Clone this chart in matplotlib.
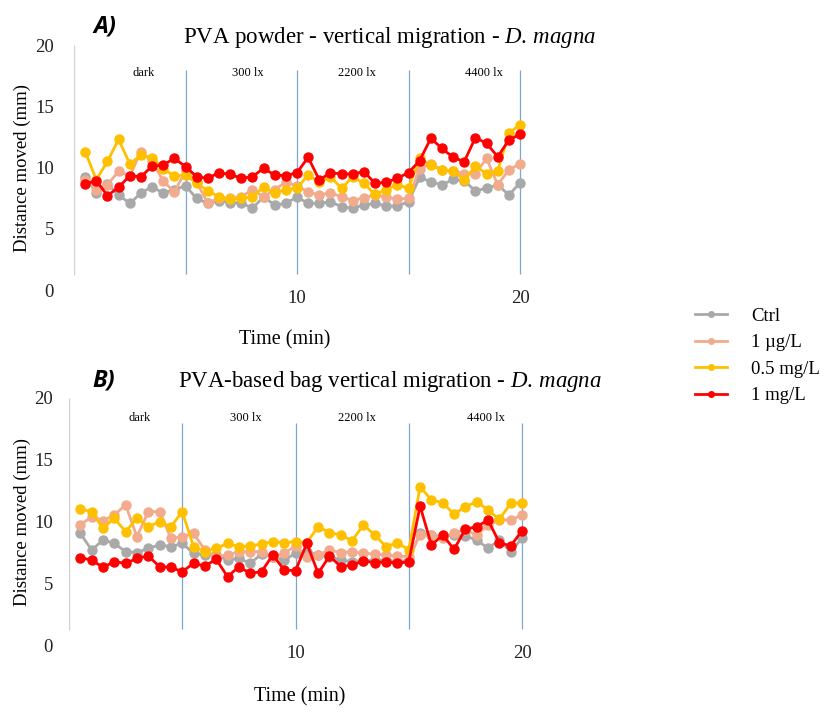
import numpy as np
from matplotlib import pyplot as plt
from matplotlib.lines import Line2D

plt.rcParams['font.family'] = ['Liberation Serif', 'DejaVu Serif']
plt.rcParams['mathtext.fontset'] = 'custom'
plt.rcParams['mathtext.it'] = 'Liberation Serif:italic'
plt.rcParams['mathtext.rm'] = 'Liberation Serif'

# time points, every 30 s
time = np.arange(1, 41) * 0.5

series_names = ['Ctrl', '1 \u00b5g/L', '0.5 mg/L', '1 mg/L']
series_colors = ['#a9a9a9', '#f2ab8c', '#ffc000', '#ff0000']

phases = ['dark', '300 lx', '2200 lx', '4400 lx']
phase_x = [3.1, 7.8, 12.7, 18.4]
dividers = [5, 10, 15, 20]

# A) PVA powder
a_ctrl = [9.25, 7.95, 8.65, 7.76, 7.07, 7.9, 8.44, 7.9, 8.2, 8.5,
          7.48, 7.07, 7.3, 7.13, 7.13, 6.67, 7.6, 6.94, 7.07, 7.6,
          7.07, 7.07, 7.2, 6.8, 6.67, 6.94, 7.07, 6.86, 6.86, 7.2,
          9.2, 8.84, 8.57, 9.03, 8.9, 8.1, 8.3, 8.6, 7.75, 8.75]
a_1ug = [9.0, 8.2, 8.6, 9.7, 9.3, 11.3, 10.5, 8.9, 8.0, 9.7,
         8.8, 7.1, 7.5, 7.5, 7.6, 8.2, 7.6, 8.2, 8.8, 8.5,
         8.0, 7.75, 7.95, 7.6, 7.3, 7.55, 7.75, 7.6, 7.4, 7.5,
         9.9, 10.3, 9.8, 9.7, 9.5, 9.5, 10.75, 8.6, 9.8, 10.3]
a_05mg = [11.3, 9.0, 10.5, 12.3, 10.3, 11.0, 10.8, 9.9, 9.3, 9.4,
          8.7, 8.1, 7.6, 7.4, 7.5, 7.6, 8.4, 7.9, 8.2, 8.3,
          9.4, 8.8, 9.25, 8.3, 9.25, 8.7, 7.8, 8.2, 8.6, 8.3,
          10.75, 10.2, 9.8, 9.7, 9.0, 10.1, 9.5, 9.7, 12.8, 13.5]
a_1mg = [8.65, 8.93, 7.7, 8.38, 9.33, 9.25, 10.1, 10.2, 10.75, 10.07,
         9.25, 9.12, 9.58, 9.44, 9.12, 9.25, 9.93, 9.39, 9.33, 9.58,
         10.83, 8.98, 9.58, 9.47, 9.47, 9.66, 8.71, 8.79, 9.12, 9.58,
         10.56, 12.38, 11.56, 10.83, 10.48, 12.44, 11.97, 10.88, 12.24, 12.71]

# B) PVA-based bag
b_ctrl = [9.04, 7.69, 8.5, 8.23, 7.56, 7.48, 7.83, 8.1, 7.96, 8.23,
          7.42, 7.29, 7.29, 6.88, 7.02, 6.61, 7.37, 7.15, 6.88, 7.42,
          7.56, 7.29, 7.15, 6.88, 6.75, 6.83, 6.88, 6.88, 6.75, 6.88,
          9.04, 8.9, 8.77, 8.9, 8.83, 8.5, 7.83, 8.5, 7.56, 8.64]
b_1ug = [9.72, 10.4, 10.07, 10.53, 11.34, 8.77, 10.8, 10.8, 8.64, 8.77,
         9.04, 7.69, 7.15, 7.29, 7.56, 7.56, 7.56, 7.15, 7.42, 8.02,
         7.15, 7.29, 7.69, 7.48, 7.56, 7.42, 7.37, 7.29, 7.21, 7.15,
         8.9, 8.9, 8.64, 9.1, 9.31, 8.9, 9.72, 10.12, 10.12, 10.53]
b_05mg = [11.0, 10.8, 9.45, 10.26, 9.18, 10.26, 9.58, 9.99, 9.58, 10.8,
          7.96, 7.56, 7.83, 8.23, 7.96, 8.02, 8.18, 8.37, 8.29, 8.37,
          8.29, 9.58, 9.1, 8.9, 8.45, 9.72, 8.9, 7.96, 8.29, 7.69,
          12.82, 11.74, 11.52, 10.6, 11.2, 11.6, 10.93, 10.18, 11.47, 11.52]
b_1mg = [7.07, 6.88, 6.29, 6.75, 6.61, 7.02, 7.21, 6.34, 6.29, 5.94,
         6.61, 6.4, 6.94, 5.53, 6.34, 5.8, 5.94, 7.29, 6.07, 6.02,
         8.23, 5.8, 7.21, 6.34, 6.48, 6.8, 6.67, 6.75, 6.61, 6.75,
         11.25, 8.1, 8.9, 7.75, 9.37, 9.58, 10.12, 8.29, 8.02, 9.26]

W, H = 834, 716
fig = plt.figure(figsize=(W / 100, H / 100), dpi=100)


def panel(rect_px, data, letter, title_main, title_pos, letter_pos, xlab_pos, phase_y, ypad):
    x0, ytop, ybot, unit = rect_px
    xmax = 20.4
    ax = fig.add_axes([x0 / W, 1 - ybot / H, xmax * unit / W, (ybot - ytop) / H])
    for vals, c in zip(data, series_colors):
        ax.plot(time, vals, color=c, lw=2.0, marker='o', ms=6.5, mec=c, mfc=c)
    ax.vlines(dividers, 1.3, 18, color='#7fa7cc', lw=0.9, zorder=0)
    ax.vlines(0, 1.2, 20, color='#d0d0d0', lw=1.0, zorder=0)
    for lab, px in zip(phases, phase_x):
        ax.text(px, phase_y, lab, ha='center', va='center', fontsize=9)
    ax.set_xlim(0, xmax)
    ax.set_ylim(0, 20)
    ax.set_yticks([0, 5, 10, 15, 20])
    ax.set_xticks([10, 20])
    ax.tick_params(length=0, labelsize=13.5, colors='#222222')
    ax.tick_params(axis='y', pad=ypad)
    ax.tick_params(axis='x', pad=0)
    for s in ax.spines.values():
        s.set_visible(False)
    fig.text(title_pos[0] / W, 1 - title_pos[1] / H,
             title_main + r'$\it{D.\,magna}$', ha='center', va='center', fontsize=16.5)
    fig.text(letter_pos[0] / W, 1 - letter_pos[1] / H, letter, ha='center', va='center',
             fontsize=17, fontweight='bold', fontstyle='italic', family=['Open Sans', 'DejaVu Sans'])
    fig.text(22 / W, 1 - (ytop + ybot) / 2 / H, 'Distance moved (mm)', rotation=90,
             ha='center', va='center', fontsize=13.5)
    fig.text(xlab_pos[0] / W, 1 - xlab_pos[1] / H, 'Time (min)', ha='center', va='center',
             fontsize=14.5)
    return ax


panel((74, 45, 290, 22.3), [a_ctrl, a_1ug, a_05mg, a_1mg], 'A)',
      'PVA powder - vertical migration - ', (390, 38), (105, 27), (285, 340), 17.7, 14.5)
panel((69, 398, 645, 22.65), [b_ctrl, b_1ug, b_05mg, b_1mg], 'B)',
      'PVA-based bag vertical migration - ', (390, 382), (104, 380), (300, 697), 18.4, 11.5)

handles = [Line2D([], [], color=c, lw=2.0, marker='o', ms=4, mec=c, mfc=c) for c in series_colors]
fig.legend(handles, series_names, loc='center left', bbox_to_anchor=(678 / W, 1 - 356 / H),
           frameon=False, fontsize=13.5, handlelength=1.7, labelspacing=0.5, handletextpad=1.3)

fig.savefig('out.png', dpi=100)
